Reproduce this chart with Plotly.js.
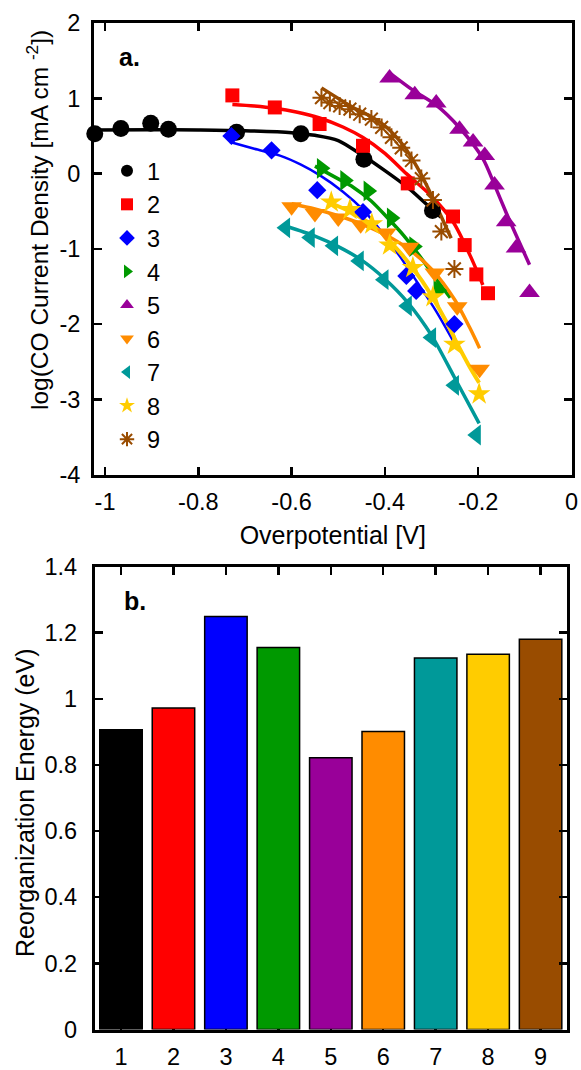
<!DOCTYPE html>
<html>
<head>
<meta charset="utf-8">
<script src="https://cdn.plot.ly/plotly-3.0.1.min.js"></script>
<style>html,body{margin:0;padding:0;background:#fff}#chart{width:581px;height:1070px}</style>
</head>
<body>
<div id="chart"></div>
<script>
// ---------- Panel a: data points ----------
const s1x = [-1.022, -0.966, -0.902, -0.864, -0.718, -0.580, -0.445, -0.298];
const s1y = [0.53, 0.60, 0.67, 0.59, 0.55, 0.53, 0.19, -0.49];
const s2x = [-0.727, -0.636, -0.540, -0.447, -0.351, -0.254, -0.229, -0.204, -0.179];
const s2y = [1.04, 0.88, 0.66, 0.37, -0.13, -0.57, -0.95, -1.34, -1.59];
const s3x = [-0.729, -0.643, -0.545, -0.447, -0.354, -0.333, -0.251];
const s3y = [0.50, 0.31, -0.22, -0.51, -1.36, -1.56, -2.00];
const s4x = [-0.536, -0.486, -0.436, -0.386, -0.338, -0.286];
const s4y = [0.07, -0.09, -0.23, -0.59, -0.97, -1.55];
const s5x = [-0.390, -0.336, -0.290, -0.240, -0.211, -0.186, -0.165, -0.140, -0.119, -0.090];
const s5y = [1.27, 1.05, 0.94, 0.59, 0.42, 0.24, -0.15, -0.64, -0.99, -1.58];
const s6x = [-0.600, -0.550, -0.500, -0.452, -0.397, -0.348, -0.293, -0.245, -0.197];
const s6y = [-0.44, -0.53, -0.59, -0.68, -0.79, -0.98, -1.32, -1.77, -2.60];
const s7x = [-0.613, -0.560, -0.510, -0.455, -0.402, -0.352, -0.300, -0.251, -0.204];
const s7y = [-0.72, -0.85, -0.96, -1.16, -1.41, -1.76, -2.18, -2.815, -3.475];
const s8x = [-0.515, -0.475, -0.428, -0.390, -0.340, -0.297, -0.251, -0.198];
const s8y = [-0.38, -0.48, -0.67, -0.95, -1.25, -1.64, -2.27, -2.93];
const s9x = [-0.536, -0.518, -0.497, -0.475, -0.454, -0.429, -0.407, -0.386, -0.365, -0.343, -0.322, -0.297, -0.279, -0.251];
const s9y = [1.01, 0.945, 0.90, 0.857, 0.79, 0.725, 0.615, 0.483, 0.343, 0.175, -0.066, -0.352, -0.77, -1.267];

// ---------- Panel a: fitted curves ----------
const f1x = [-1.03, -0.9, -0.8, -0.7, -0.6, -0.55, -0.5, -0.45, -0.4, -0.35, -0.3, -0.28];
const f1y = [0.58, 0.585, 0.58, 0.57, 0.545, 0.51, 0.44, 0.25, 0.04, -0.19, -0.47, -0.58];
const f2x = [-0.727, -0.68, -0.636, -0.59, -0.54, -0.49, -0.447, -0.40, -0.354, -0.30, -0.254, -0.218, -0.19];
const f2y = [0.92, 0.90, 0.87, 0.82, 0.74, 0.62, 0.48, 0.27, 0.0, -0.30, -0.64, -1.08, -1.48];
const f3x = [-0.732, -0.68, -0.625, -0.58, -0.54, -0.49, -0.447, -0.40, -0.368, -0.33, -0.29, -0.254];
const f3y = [0.42, 0.33, 0.24, 0.12, -0.02, -0.24, -0.48, -0.83, -1.10, -1.45, -1.83, -2.22];
const f4x = [-0.55, -0.50, -0.468, -0.43, -0.397, -0.36, -0.325, -0.29, -0.26];
const f4y = [0.10, -0.07, -0.18, -0.36, -0.57, -0.82, -1.10, -1.40, -1.65];
const f5x = [-0.39, -0.34, -0.29, -0.24, -0.19, -0.165, -0.14, -0.115, -0.09];
const f5y = [1.34, 1.11, 0.91, 0.61, 0.20, -0.15, -0.52, -0.87, -1.21];
const f6x = [-0.60, -0.55, -0.50, -0.45, -0.40, -0.35, -0.30, -0.25, -0.218, -0.197];
const f6y = [-0.40, -0.47, -0.56, -0.67, -0.81, -1.00, -1.27, -1.68, -2.05, -2.32];
const f7x = [-0.611, -0.55, -0.50, -0.45, -0.40, -0.35, -0.30, -0.25, -0.198];
const f7y = [-0.70, -0.83, -0.97, -1.15, -1.40, -1.72, -2.15, -2.72, -3.32];
const f8x = [-0.52, -0.47, -0.42, -0.37, -0.32, -0.27, -0.25, -0.22, -0.198];
const f8y = [-0.38, -0.52, -0.72, -1.03, -1.43, -1.95, -2.20, -2.55, -2.78];
const f9x = [-0.536, -0.50, -0.468, -0.43, -0.397, -0.361, -0.325, -0.297, -0.258];
const f9y = [1.14, 1.00, 0.88, 0.76, 0.62, 0.38, 0.02, -0.33, -0.86];

// ---------- Panel b ----------
const catLabels = ["1", "2", "3", "4", "5", "6", "7", "8", "9"];
const reorgEnergy = [0.906, 0.972, 1.249, 1.155, 0.822, 0.901, 1.123, 1.135, 1.180];

// ---------- ticks ----------
const xTickVals = [-1, -0.8, -0.6, -0.4, -0.2, 0];
const xTickText = ["-1", "-0.8", "-0.6", "-0.4", "-0.2", "0"];
const yTickVals = [-4, -3, -2, -1, 0, 1, 2];
const yTickText = ["-4", "-3", "-2", "-1", "0", "1", "2"];

const colors = ["#000000", "#ff0000", "#0000ff", "#009900", "#990099", "#ff8c00", "#009999", "#ffcc00", "#994c00"];
const symbols = ["circle", "square", "diamond", "triangle-right", "triangle-up", "triangle-down", "triangle-left", "star", "asterisk-open"];
const sizes = [17, 14, 14, 18, 18, 18, 18, 17, 15];
const lineWidths = [3.5, 3.5, 2.5, 3.5, 3.5, 3.5, 3.5, 4, 3.5];

const pts = [[s1x, s1y], [s2x, s2y], [s3x, s3y], [s4x, s4y], [s5x, s5y], [s6x, s6y], [s7x, s7y], [s8x, s8y], [s9x, s9y]];
const fits = [[f1x, f1y], [f2x, f2y], [f3x, f3y], [f4x, f4y], [f5x, f5y], [f6x, f6y], [f7x, f7y], [f8x, f8y], [f9x, f9y]];

const traces = [];
for (let i = 0; i < 9; i++) {
  traces.push({
    type: "scatter", mode: "lines", x: fits[i][0], y: fits[i][1],
    line: {color: colors[i], width: lineWidths[i], shape: "spline", smoothing: 0.8},
    showlegend: false, hoverinfo: "skip", xaxis: "x", yaxis: "y"
  });
}
for (let i = 0; i < 9; i++) {
  const mk = {symbol: symbols[i], size: sizes[i], color: colors[i]};
  if (symbols[i] === "asterisk-open") mk.line = {color: colors[i], width: 2};
  else mk.line = {width: 0};
  traces.push({
    type: "scatter", mode: "markers", x: pts[i][0], y: pts[i][1],
    marker: mk, name: catLabels[i], cliponaxis: false, xaxis: "x", yaxis: "y"
  });
}
traces.push({
  type: "bar", x: catLabels, y: reorgEnergy, xaxis: "x2", yaxis: "y2",
  marker: {color: colors, line: {color: "#000", width: 1.5}},
  showlegend: false, width: 0.81
});

const W = 581, H = 1070;
const FONT = "Liberation Sans, Arial, sans-serif";
const tickFont = {family: FONT, size: 23.5, color: "#000"};
const axCommon = {
  showline: true, linewidth: 3, linecolor: "#000", mirror: "ticks",
  ticks: "inside", ticklen: 8, tickwidth: 2.5, tickcolor: "#000",
  showgrid: false, zeroline: false, tickfont: tickFont
};

const layout = {
  width: W, height: H,
  margin: {l: 0, r: 0, t: 0, b: 0},
  paper_bgcolor: "#fff", plot_bgcolor: "#fff",
  font: {family: FONT, color: "#000"},
  showlegend: true,
  legend: {
    x: 107 / W, y: 1 - 149 / H, xanchor: "left", yanchor: "top",
    bgcolor: "rgba(0,0,0,0)", borderwidth: 0, itemsizing: "constant",
    font: {family: FONT, size: 23.5, color: "#000"}, tracegroupgap: 0
  },
  xaxis: Object.assign({}, axCommon, {
    domain: [94 / W, 571.5 / W], range: [-1.0236, 0], anchor: "y",
    tickvals: xTickVals, ticktext: xTickText, ticklabelstandoff: 4,
    title: {text: "Overpotential [V]", font: {family: FONT, size: 25, color: "#000"}, standoff: 13}
  }),
  yaxis: Object.assign({}, axCommon, {
    domain: [1 - 474.5 / H, 1 - 23.2 / H], range: [-4, 2], anchor: "x",
    tickvals: yTickVals, ticktext: yTickText, ticklabelstandoff: 6
  }),
  xaxis2: Object.assign({}, axCommon, {
    domain: [94.8 / W, 566.8 / W], range: [-0.5, 8.5], anchor: "y2", type: "category",
    layer: "below traces", ticklabelstandoff: 4
  }),
  yaxis2: Object.assign({}, axCommon, {
    domain: [1 - 1029.5 / H, 1 - 566.5 / H], range: [0, 1.4], anchor: "x2",
    dtick: 0.2, tick0: 0, ticklabelstandoff: 10
  }),
  annotations: [
    {text: "log(CO Current Density [mA cm <sup>-2</sup>])", xref: "paper", yref: "paper",
     x: 37 / W, y: 1 - 220 / H, textangle: -90, showarrow: false,
     font: {family: FONT, size: 24.5, color: "#000"}, xanchor: "center", yanchor: "middle"},
    {text: "Reorganization Energy (eV)", xref: "paper", yref: "paper",
     x: 25 / W, y: 1 - 803 / H, textangle: -90, showarrow: false,
     font: {family: FONT, size: 25, color: "#000"}, xanchor: "center", yanchor: "middle"},
    {text: "<b>a.</b>", xref: "paper", yref: "paper", x: 129 / W, y: 1 - 57 / H,
     showarrow: false, font: {family: FONT, size: 25, color: "#000"}, xanchor: "center", yanchor: "middle"},
    {text: "<b>b.</b>", xref: "paper", yref: "paper", x: 135 / W, y: 1 - 601 / H,
     showarrow: false, font: {family: FONT, size: 25, color: "#000"}, xanchor: "center", yanchor: "middle"}
  ]
};

Plotly.newPlot("chart", traces, layout, {displayModeBar: false, staticPlot: true});
</script>
</body>
</html>
